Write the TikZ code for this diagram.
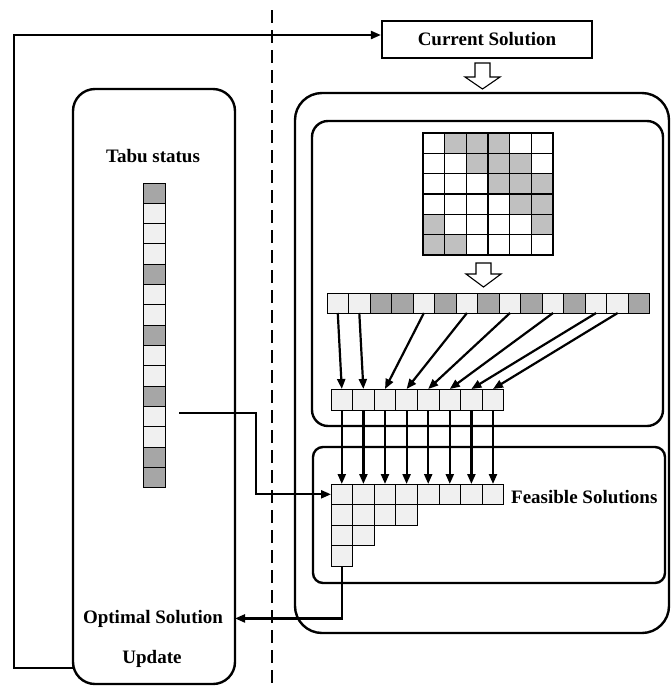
\documentclass[tikz,border=0pt]{standalone}
\usepackage{fontspec}
\setmainfont{Liberation Serif}
\usetikzlibrary{arrows.meta,calc}
\definecolor{cl}{HTML}{F0F0F0}
\definecolor{cd}{HTML}{A6A6A6}
\definecolor{mw}{HTML}{FFFFFF}
\definecolor{mg}{HTML}{C0C0C0}
\tikzset{
  bigbox/.style={draw, line width=2.4pt, inner sep=0pt, outer sep=0pt},
  cell/.style={draw, line width=1pt, minimum width=21.6pt, minimum height=20.4pt, inner sep=0pt, outer sep=0pt, anchor=north west},
  arr/.style={line width=2.2pt, -{Triangle[length=10pt,width=8pt]}},
  lbl/.style={font=\fontsize{19}{22}\selectfont\bfseries, inner sep=0pt},
  hollow/.style={draw, line width=1.1pt, fill=white},
  divider/.style={line width=2.2pt, dash pattern=on 13pt off 7pt},
}
\begin{document}
\begin{tikzpicture}[x=1pt,y=-1pt]
\useasboundingbox (0,0) rectangle (670,686);
% big boxes
\node[bigbox, rounded corners=22pt, minimum width=162pt, minimum height=595pt] (tabubox) at (154,386.5) {};
\node[bigbox, rounded corners=27pt, minimum width=374pt, minimum height=540pt] (outer) at (482,363) {};
\node[bigbox, rounded corners=16pt, minimum width=351pt, minimum height=305pt] (upper) at (487.5,273.5) {};
\node[bigbox, rounded corners=10pt, minimum width=352pt, minimum height=136pt] (lower) at (489,515) {};
\node[draw, line width=2.2pt, minimum width=210pt, minimum height=37pt, inner sep=0pt, lbl] (cur) at (487,39.5) {Current Solution};
% dashed divider
\coordinate (dtop) at (272,10);
\coordinate (dbot) at (272,686);
\draw[divider] (dtop) -- (dbot);
% hollow arrows
\draw[hollow] (475,63) -- (490,63) -- (490,77) -- (500,77) -- (482.5,89) -- (465,77) -- (475,77) -- cycle;
\draw[hollow] (476,263) -- (491,263) -- (491,274) -- (501,274) -- (483.5,287) -- (466,274) -- (476,274) -- cycle;
% labels
\node[lbl, anchor=base] (tabulbl) at (153,162) {Tabu status};
\node[lbl, anchor=base west] (feaslbl) at (511,503) {Feasible Solutions};
\node[lbl, anchor=base] (opt) at (153,623) {Optimal Solution};
\node[lbl, anchor=base] (upd) at (152,663) {Update};
% tabu column
\foreach \c [count=\i from 0] in {d,l,l,l,d,l,l,d,l,l,d,l,l,d,d}
  \node[cell, minimum width=22pt, minimum height=20.33pt, fill=c\c] (t\i) at (143,{183+\i*20.33}) {};
% matrix
\foreach \row [count=\r from 0] in {{w,g,g,g,w,w},{w,w,g,g,g,w},{w,w,w,g,g,g},{w,w,w,w,g,g},{g,w,w,w,w,g},{g,g,w,w,w,w}}
  \foreach \c [count=\k from 0] in \row
    \node[cell, line width=1.2pt, minimum width=21.67pt, minimum height=20.33pt, fill=m\c] (m\r-\k) at ({423+\k*21.67},{133+\r*20.33}) {};
% row of 15
\foreach \c [count=\i] in {l,l,d,d,l,d,l,d,l,d,l,d,l,l,d}
  \node[cell, minimum width=21.53pt, minimum height=20pt, fill=c\c] (s\i) at ({327+(\i-1)*21.53},293) {};
% row of 8
\foreach \i in {1,...,8}
  \node[cell, minimum height=21pt, fill=cl] (e\i) at ({331+(\i-1)*21.6},389) {};
% feasible triangle
\foreach \r/\n in {1/8,2/4,3/2,4/1}
  \foreach \k in {1,...,\n}
    \node[cell, minimum height=20.6pt, fill=cl] (f\r-\k) at ({331+(\k-1)*21.6},{484+(\r-1)*20.6}) {};
% arrows 15 -> 8
\foreach \s [count=\i] in {1,2,5,7,9,11,13,14}
  \draw[arr] (s\s.south) -- (e\i.north);
% arrows 8 -> feasible
\foreach \i in {1,...,8}
  \draw[arr] (e\i.south) -- (f1-\i.north);
% tabu -> feasible
\coordinate (tabuout) at (179,413);
\coordinate (bend) at (256,413);
\draw[arr] (tabuout) -- (bend) |- (f1-1.west);
% feasible -> optimal
\draw[arr] (f4-1.south) |- (tabubox.east |- opt);
% loop back to current solution
\coordinate (lpB) at (14,668);
\coordinate (lpC) at (14,35);
\draw[arr] (tabubox.west |- lpB) -- (lpB) -- (lpC) -- (cur.west |- lpC);
\end{tikzpicture}
\end{document}
